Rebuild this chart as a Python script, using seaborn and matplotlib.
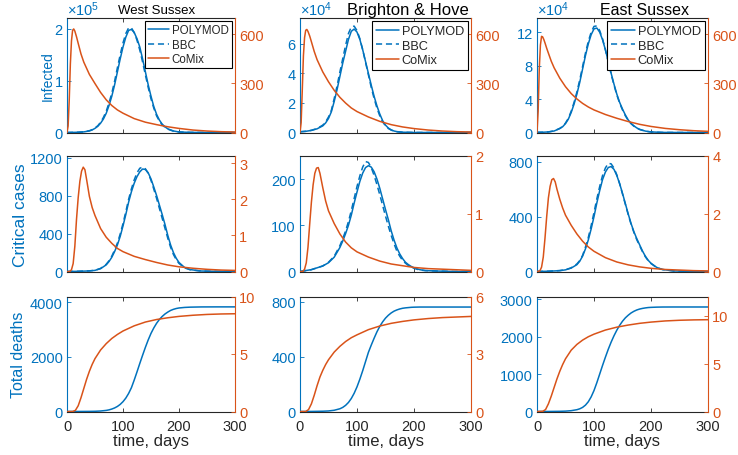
import matplotlib
matplotlib.use("Agg")
import matplotlib.pyplot as plt
import seaborn as sns

# ---- data (days on x) ----
regions = ["West Sussex", "Brighton & Hove", "East Sussex"]

# infected (left axis in units of 10^5 / 10^4 / 10^4)
t_inf = [0, 10, 20, 30, 40, 45, 50, 55, 60, 65, 70, 75, 80, 85, 90, 95, 100, 105, 110,
         115, 120, 125, 130, 135, 140, 145, 150, 155, 160, 165, 170, 175, 180, 190, 200,
         220, 250, 300]
inf_polymod_ws = [0, 0.002, 0.005, 0.012, 0.03, 0.05, 0.08, 0.12, 0.18, 0.26, 0.37, 0.52,
                  0.70, 0.92, 1.17, 1.42, 1.65, 1.84, 1.97, 1.99, 1.93, 1.81, 1.65, 1.42,
                  1.17, 0.92, 0.70, 0.50, 0.35, 0.24, 0.16, 0.11, 0.07, 0.03, 0.01, 0.002,
                  0, 0]
inf_bbc_ws = [0, 0.002, 0.005, 0.013, 0.035, 0.055, 0.09, 0.13, 0.20, 0.29, 0.41, 0.57,
              0.76, 0.99, 1.25, 1.50, 1.73, 1.91, 2.02, 2.02, 1.93, 1.78, 1.59, 1.36, 1.11,
              0.87, 0.65, 0.47, 0.32, 0.22, 0.15, 0.10, 0.065, 0.025, 0.01, 0.002, 0, 0]
inf_polymod_bh = [0.05, 0.08, 0.14, 0.25, 0.45, 0.65, 0.95, 1.4, 2.1, 2.9, 3.8, 4.7, 5.5,
                  6.3, 6.85, 7.0, 6.8, 6.3, 5.6, 4.8, 4.0, 3.2, 2.45, 1.8, 1.25, 0.8, 0.5,
                  0.3, 0.18, 0.1, 0.06, 0.04, 0.02, 0.01, 0, 0, 0, 0]
inf_bbc_bh = [0.05, 0.08, 0.15, 0.27, 0.5, 0.72, 1.05, 1.5, 2.3, 3.15, 4.1, 5.0, 5.9, 6.7,
              7.15, 7.2, 6.9, 6.35, 5.6, 4.75, 3.9, 3.05, 2.3, 1.65, 1.12, 0.72, 0.45, 0.27,
              0.16, 0.09, 0.05, 0.03, 0.02, 0.01, 0, 0, 0, 0]
inf_polymod_es = [0.02, 0.03, 0.07, 0.18, 0.47, 0.69, 1.07, 1.6, 2.4, 3.4, 4.6, 6.0, 7.6,
                  9.2, 10.6, 11.7, 12.4, 12.5, 12.0, 11.1, 9.9, 8.5, 7.1, 5.8, 4.6, 3.6,
                  2.8, 2.1, 1.5, 1.1, 0.8, 0.55, 0.38, 0.17, 0.07, 0.01, 0, 0]
inf_bbc_es = [0.02, 0.03, 0.07, 0.19, 0.5, 0.73, 1.13, 1.7, 2.55, 3.6, 4.85, 6.3, 7.9, 9.5,
              10.9, 12.0, 12.7, 12.75, 12.2, 11.2, 9.9, 8.45, 7.0, 5.7, 4.5, 3.5, 2.7, 2.0,
              1.45, 1.05, 0.75, 0.52, 0.36, 0.16, 0.06, 0.01, 0, 0]

t_inf_cm = [0, 2, 4, 6, 8, 10, 12, 14, 17, 20, 25, 30, 40, 50, 60, 70, 80, 90, 100, 120,
            140, 160, 180, 200, 225, 250, 275, 300]
inf_comix_ws = [0, 40, 200, 420, 560, 625, 633, 620, 585, 545, 480, 430, 355, 299, 245,
                200, 165, 138, 118, 85, 63, 48, 35, 25, 15, 9, 5, 3]
inf_comix_bh = [0, 60, 260, 470, 580, 625, 630, 618, 590, 555, 495, 445, 370, 310, 258,
                215, 180, 150, 128, 95, 68, 48, 34, 24, 15, 9, 5, 3]
inf_comix_es = [0, 130, 390, 535, 588, 584, 568, 548, 515, 485, 436, 396, 332, 280, 238,
                205, 178, 156, 138, 110, 87, 67, 50, 37, 25, 17, 11, 7]

# critical cases
t_crit = [0, 20, 40, 50, 60, 70, 75, 80, 85, 90, 95, 100, 105, 110, 115, 120, 125, 130,
          135, 140, 145, 150, 155, 160, 165, 170, 175, 180, 185, 190, 195, 200, 210, 220,
          240, 270, 300]
crit_polymod_ws = [0, 2, 6, 12, 30, 70, 105, 150, 210, 280, 370, 480, 600, 730, 840, 930,
                   1000, 1050, 1080, 1075, 1040, 975, 890, 800, 700, 600, 495, 380, 280,
                   200, 140, 95, 42, 20, 5, 1, 0]
crit_bbc_ws = [0, 2, 7, 13, 33, 76, 113, 162, 226, 300, 395, 505, 630, 760, 870, 965, 1040,
               1088, 1100, 1082, 1035, 960, 868, 770, 665, 560, 455, 350, 255, 180, 125, 85,
               38, 18, 4, 1, 0]
crit_polymod_bh = [0, 4, 12, 19, 31, 52, 66, 82, 100, 122, 148, 172, 195, 213, 225, 229,
                   226, 216, 200, 180, 157, 134, 112, 88, 68, 51, 38, 28, 20, 15, 11, 8, 4,
                   2, 1, 0, 0]
crit_bbc_bh = [0, 4, 12, 20, 33, 56, 71, 88, 108, 132, 158, 184, 207, 226, 238, 236, 225,
               208, 188, 166, 143, 120, 98, 78, 60, 44, 33, 24, 18, 13, 10, 7, 3, 2, 1, 0, 0]
crit_polymod_es = [0, 2, 6, 12, 25, 50, 75, 112, 165, 230, 310, 400, 500, 590, 670, 725,
                   758, 765, 745, 700, 640, 570, 495, 420, 350, 290, 240, 195, 150, 112, 82,
                   60, 30, 15, 4, 1, 0]
crit_bbc_es = [0, 2, 7, 13, 27, 55, 80, 118, 178, 248, 335, 430, 530, 620, 700, 755, 788,
               785, 755, 705, 640, 565, 490, 415, 345, 285, 232, 188, 145, 108, 79, 58, 28,
               14, 4, 1, 0]

t_crit_cm = [0, 5, 8, 11, 14, 17, 20, 23, 26, 29, 32, 35, 40, 45, 50, 60, 70, 80, 90, 100,
             120, 140, 160, 180, 200, 225, 250, 275, 300]
crit_comix_ws = [0, 0, 0.05, 0.22, 0.7, 1.45, 2.05, 2.5, 2.78, 2.89, 2.82, 2.55, 2.08, 1.77,
                 1.55, 1.19, 0.95, 0.78, 0.64, 0.55, 0.42, 0.33, 0.25, 0.18, 0.13, 0.09,
                 0.06, 0.04, 0.03]
crit_comix_bh = [0, 0, 0.04, 0.15, 0.42, 0.82, 1.2, 1.5, 1.7, 1.79, 1.8, 1.7, 1.45, 1.22,
                 1.05, 0.83, 0.65, 0.51, 0.41, 0.34, 0.25, 0.18, 0.13, 0.1, 0.07, 0.05,
                 0.04, 0.03, 0.02]
crit_comix_es = [0, 0.02, 0.15, 0.5, 1.15, 1.9, 2.55, 2.95, 3.18, 3.22, 3.1, 2.85, 2.5, 2.2,
                 1.95, 1.6, 1.3, 1.05, 0.85, 0.7, 0.48, 0.33, 0.23, 0.16, 0.11, 0.07, 0.05,
                 0.03, 0.02]

# total deaths
t_dth = t_crit
dth_polymod_ws = [0, 1, 4, 8, 18, 40, 60, 90, 130, 185, 260, 360, 490, 660, 870, 1150, 1450,
                  1760, 2060, 2350, 2620, 2860, 3060, 3230, 3370, 3480, 3570, 3640, 3700,
                  3740, 3770, 3790, 3810, 3820, 3828, 3830, 3830]
dth_polymod_bh = [0, 0.5, 2, 4, 9, 20, 30, 45, 66, 95, 133, 180, 236, 298, 365, 432, 485,
                  535, 582, 622, 655, 682, 703, 720, 733, 742, 749, 754, 757, 759, 761, 762,
                  763, 763, 763, 763, 763]
dth_polymod_es = [0, 1, 5, 10, 22, 48, 72, 110, 170, 260, 390, 560, 770, 1000, 1230, 1450,
                  1660, 1850, 2020, 2170, 2300, 2410, 2500, 2570, 2630, 2675, 2710, 2735,
                  2752, 2765, 2775, 2780, 2786, 2789, 2790, 2790, 2790]

t_dth_cm = [0, 10, 15, 20, 25, 30, 35, 40, 45, 50, 60, 70, 80, 90, 100, 120, 140, 160, 180,
            200, 225, 250, 275, 300]
dth_comix_ws = [0, 0, 0.1, 0.5, 1.2, 2.0, 2.8, 3.5, 4.1, 4.6, 5.35, 5.9, 6.35, 6.7, 7.0,
                7.45, 7.78, 8.0, 8.15, 8.27, 8.37, 8.44, 8.48, 8.5]
dth_comix_bh = [0, 0, 0.1, 0.4, 0.85, 1.35, 1.8, 2.15, 2.45, 2.7, 3.1, 3.4, 3.65, 3.85, 4.0,
                4.27, 4.46, 4.6, 4.7, 4.78, 4.85, 4.9, 4.93, 4.96]
dth_comix_es = [0, 0.02, 0.2, 0.8, 1.6, 2.5, 3.4, 4.2, 4.9, 5.5, 6.4, 7.0, 7.45, 7.8, 8.07,
                8.5, 8.8, 9.02, 9.2, 9.33, 9.45, 9.52, 9.56, 9.58]

# ---- styling ----
BLUE = "#0072BD"
ORANGE = "#D95319"
DARK = "#262626"
LW = 1.1

sns.set_style("white")
plt.rcParams["font.family"] = ["Liberation Sans", "DejaVu Sans"]
plt.rcParams["mathtext.fontset"] = "custom"
plt.rcParams["mathtext.rm"] = "Liberation Sans"
plt.rcParams["mathtext.it"] = "Liberation Sans:italic"

W, H = 738, 456
fig = plt.figure(figsize=(W / 100, H / 100), dpi=100)
fig.patch.set_facecolor("white")

col_x = [(67, 235), (300, 471), (537, 708)]
row_y = [(19, 133.5), (157, 272.5), (297.5, 412.5)]

rows = [
    dict(t=t_inf, t_cm=t_inf_cm,
         poly=[inf_polymod_ws, inf_polymod_bh, inf_polymod_es],
         bbc=[inf_bbc_ws, inf_bbc_bh, inf_bbc_es],
         cm=[inf_comix_ws, inf_comix_bh, inf_comix_es],
         llim=[2.21, 7.75, 13.7], lticks=[[0, 1, 2], [0, 2, 4, 6], [0, 4, 8, 12]],
         rlim=[700, 700, 700], rticks=[[0, 300, 600]] * 3,
         ylabel="Infected", ylsize=10, ylx=-0.07, exp=[5, 4, 4]),
    dict(t=t_crit, t_cm=t_crit_cm,
         poly=[crit_polymod_ws, crit_polymod_bh, crit_polymod_es],
         bbc=[crit_bbc_ws, crit_bbc_bh, crit_bbc_es],
         cm=[crit_comix_ws, crit_comix_bh, crit_comix_es],
         llim=[1217, 250, 842], lticks=[[0, 400, 800, 1200], [0, 100, 200], [0, 400, 800]],
         rlim=[3.2, 2, 4], rticks=[[0, 1, 2, 3], [0, 1, 2], [0, 2, 4]],
         ylabel="Critical cases", ylsize=12.5, ylx=-0.235, exp=None),
    dict(t=t_dth, t_cm=t_dth_cm,
         poly=[dth_polymod_ws, dth_polymod_bh, dth_polymod_es],
         bbc=None,
         cm=[dth_comix_ws, dth_comix_bh, dth_comix_es],
         llim=[4210, 840, 3070], lticks=[[0, 2000, 4000], [0, 400, 800], [0, 1000, 2000, 3000]],
         rlim=[10, 6, 12], rticks=[[0, 5, 10], [0, 3, 6], [0, 5, 10]],
         ylabel="Total deaths", ylsize=11.5, ylx=-0.245, exp=None),
]

title_size = [9.5, 12, 11.5]
title_base = [13.5, 15, 15]
legend_size = [8.3, 9.2, 9.3]

for r, spec in enumerate(rows):
    for c in range(3):
        x0, x1 = col_x[c]
        y0, y1 = row_y[r]
        ax = fig.add_axes([x0 / W, 1 - y1 / H, (x1 - x0) / W, (y1 - y0) / H])
        ax2 = ax.twinx()

        sns.lineplot(x=spec["t"], y=spec["poly"][c], ax=ax, color=BLUE, linewidth=LW)
        h_poly = ax.lines[-1]
        h_bbc = None
        if spec["bbc"] is not None:
            sns.lineplot(x=spec["t"], y=spec["bbc"][c], ax=ax, color=BLUE, linewidth=LW,
                         linestyle=(0, (4, 2.5)))
            h_bbc = ax.lines[-1]
        sns.lineplot(x=spec["t_cm"], y=spec["cm"][c], ax=ax2, color=ORANGE, linewidth=LW)
        h_cm = ax2.lines[-1]

        ax.set_xlim(0, 300)
        ax.set_xticks([0, 100, 200, 300])
        ax.set_ylim(0, spec["llim"][c])
        ax.set_yticks(spec["lticks"][c])
        ax2.set_ylim(0, spec["rlim"][c])
        ax2.set_yticks(spec["rticks"][c])
        ax.set_xlabel("")
        ax.set_ylabel("")
        ax2.set_ylabel("")

        for s in ["top", "bottom"]:
            ax.spines[s].set_color(DARK)
            ax.spines[s].set_linewidth(0.8)
            ax2.spines[s].set_visible(False)
        ax.spines["left"].set_color(BLUE)
        ax.spines["left"].set_linewidth(0.8)
        ax.spines["right"].set_visible(False)
        ax2.spines["left"].set_visible(False)
        ax2.spines["right"].set_color(ORANGE)
        ax2.spines["right"].set_linewidth(0.8)

        ax.tick_params(axis="x", direction="in", top=True, bottom=True, length=3,
                       width=0.6, color=DARK, labelcolor=DARK, labelsize=10.5, pad=5.5,
                       labelbottom=(r == 2))
        ax.tick_params(axis="y", direction="in", left=True, right=False, length=3,
                       width=0.6, colors=BLUE, labelsize=10.5, pad=3)
        ax2.tick_params(axis="y", direction="in", right=True, left=False, length=3,
                        width=0.6, colors=ORANGE, labelsize=10.5, pad=3)

        if c == 0:
            ax.set_ylabel(spec["ylabel"], color=BLUE, fontsize=spec["ylsize"])
            ax.yaxis.set_label_coords(spec["ylx"], 0.5)
        if r == 2:
            ax.set_xlabel("time, days", color=DARK, fontsize=12, labelpad=0)

        if spec["exp"] is not None:
            ax.text(0.0, 1.025, r"$\times10^{%d}$" % spec["exp"][c], transform=ax.transAxes,
                    color=BLUE, fontsize=10.5, ha="left", va="baseline")

        if r == 0:
            leg = ax2.legend([h_poly, h_bbc, h_cm], ["POLYMOD", "BBC", "CoMix"],
                             loc="upper right", bbox_to_anchor=(1.0, 1.0),
                             borderaxespad=0.25, fontsize=legend_size[c], frameon=True,
                             fancybox=False, edgecolor="black", framealpha=1,
                             handlelength=1.8, handletextpad=0.25, labelspacing=0.2,
                             borderpad=0.3)
            leg.get_frame().set_linewidth(0.8)
            fig.text((x0 + x1) / 2 / W + (0.008 if c == 0 else 0.03), 1 - title_base[c] / H,
                     regions[c], ha="center", va="baseline", fontsize=title_size[c],
                     color="black")

fig.savefig("out.png", dpi=100, facecolor="white")
